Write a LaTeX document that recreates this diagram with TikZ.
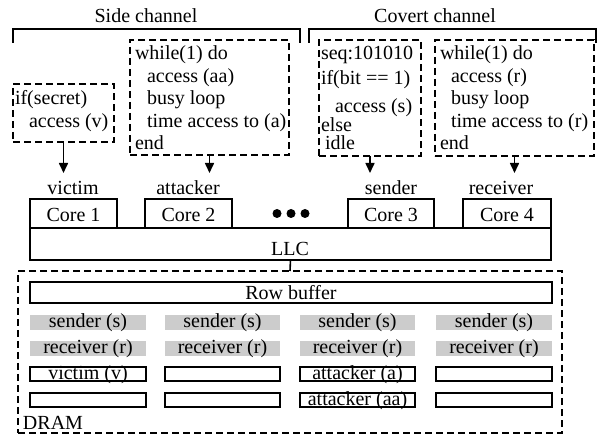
\documentclass[tikz,border=0pt]{standalone}
\usepackage{fontspec}
\setmainfont{Liberation Serif}
\usetikzlibrary{arrows.meta,fit}
\begin{document}
\begin{tikzpicture}[x=1pt,y=-1pt,
  every node/.style={font=\fontsize{20}{22}\selectfont, inner sep=0pt, outer sep=0pt},
  lw/.style={line width=1.6pt},
  solidbox/.style={draw, lw, inner sep=0pt},
  codebox/.style={draw, lw, dash pattern=on 7pt off 4pt, inner sep=0pt},
  codeline/.style={anchor=west, text height=14pt, text depth=4pt},
  grayrow/.style={fill=black!20, inner sep=0pt},
  arrowline/.style={lw, -{Triangle[length=10pt,width=9pt]}},
]
\useasboundingbox (0,0) rectangle (605,438);

% ---- channel headings and brackets ----
\node (sidelbl) at (146,15.5) {Side channel};
\node (covlbl) at (435,15.5) {Covert channel};
\draw[lw] (13,43) |- (300,29) -- (300,43);
\draw[lw] (309,43) |- (596,29) -- (596,43);

% ---- code boxes ----
\node[codebox, fit={(13,84) (114,142)}] (vcode) {};
\node[codeline] at (15,99.5) {if(secret)};
\node[codeline] at (29,123) {access (v)};

\node[codebox, fit={(130,40) (289,155)}] (acode) {};
\node[codeline] at (135,55) {while(1) do};
\node[codeline] at (147,77.5) {access (aa)};
\node[codeline] at (147,100) {busy loop};
\node[codeline] at (147,122.5) {time access to (a)};
\node[codeline] at (135,145) {end};

\node[codebox, fit={(319,40) (421,156)}] (scode) {};
\node[codeline] at (321,55) {seq:101010};
\node[codeline] at (321,80) {if(bit == 1)};
\node[codeline] at (335,108) {access (s)};
\node[codeline] at (321,127) {else};
\node[codeline] at (325,145) {idle};

\node[codebox, fit={(435,40) (594,156)}] (rcode) {};
\node[codeline] at (440,55) {while(1) do};
\node[codeline] at (451,77.5) {access (r)};
\node[codeline] at (451,100) {busy loop};
\node[codeline] at (451,122.5) {time access to (r)};
\node[codeline] at (440,145) {end};

% ---- arrows to the cores ----
\coordinate (vtip) at (vcode.south |- 0,173);
\coordinate (atip) at (acode.south |- 0,173);
\coordinate (stip) at (scode.south |- 0,173);
\coordinate (rtip) at (rcode.south |- 0,173);
\draw[arrowline] (vcode.south) -- (vtip);
\draw[arrowline] (acode.south) -- (atip);
\draw[arrowline] (scode.south) -- (stip);
\draw[arrowline] (rcode.south) -- (rtip);

\node (victim) at (73,187.5) {victim};
\node (attacker) at (188,187.5) {attacker};
\node (sender) at (391,187.5) {sender};
\node (receiver) at (501,187.5) {receiver};

% ---- cores and LLC ----
\node[solidbox, fit={(30,199) (117,228)}] (c1) {};
\node[solidbox, fit={(145,199) (232,228)}] (c2) {};
\node[solidbox, fit={(348,199) (434,228)}] (c3) {};
\node[solidbox, fit={(463,199) (551,228)}] (c4) {};
\node at ([yshift=-1pt]c1.center) {Core 1};
\node at ([yshift=-1pt]c2.center) {Core 2};
\node at ([yshift=-1pt]c3.center) {Core 3};
\node at ([yshift=-1pt]c4.center) {Core 4};

\foreach \i/\x in {1/277,2/291,3/305}
  \node[circle, fill=black, minimum size=9pt] (dot\i) at (\x,213.5) {};

\node[solidbox, fit={(30,228) (551,260)}] (llc) {};
\node (llclbl) at (290,249) {LLC};

% ---- DRAM ----
\node[codebox, fit={(18,271) (562,433)}] (dram) {};
\draw[lw] (llc.south) -- (dram.north);

\node[solidbox, fit={(30,282) (552,303)}] (rowbuf) {};
\node at (rowbuf.center) {Row buffer};

\foreach \c/\xa/\xb in {1/30/146, 2/165/280, 3/300/415, 4/436/552} {
  \node[grayrow, fit={(\xa,315) (\xb,330)}] (s\c) {};
  \node at (s\c.center) {sender (s)};
  \node[grayrow, fit={(\xa,341) (\xb,356)}] (r\c) {};
  \node at (r\c.center) {receiver (r)};
  \node[solidbox, fit={(\xa,367) (\xb,381)}] (a\c) {};
  \node[solidbox, fit={(\xa,393) (\xb,407)}] (b\c) {};
}
\node at ([yshift=-1pt]a1.center) {victim (v)};
\node at ([yshift=-1pt]a3.center) {attacker (a)};
\node at ([yshift=-1pt]b3.center) {attacker (aa)};

\node[anchor=west] (dramlbl) at (23,422.5) {DRAM};
\end{tikzpicture}
\end{document}
